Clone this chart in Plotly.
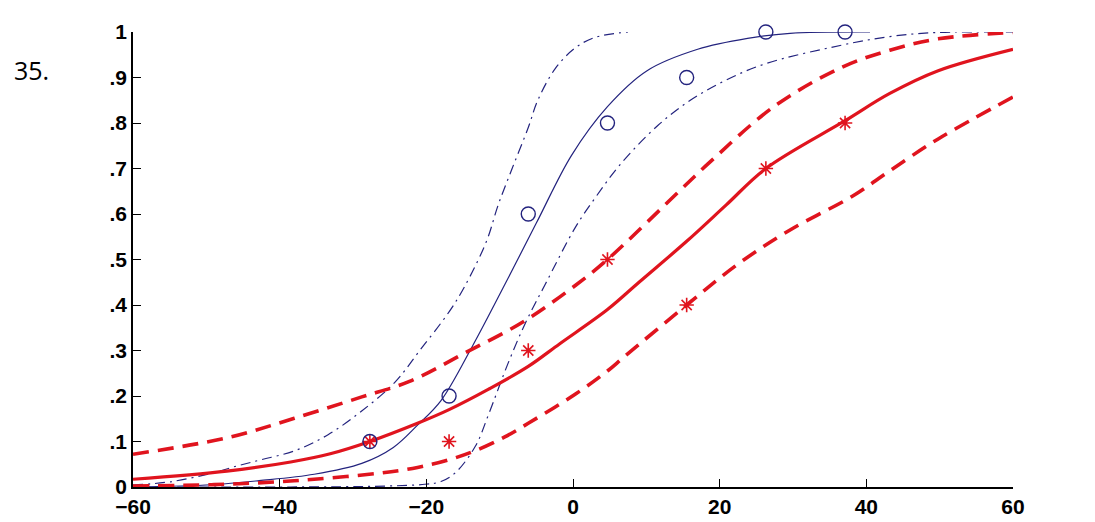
import plotly.graph_objects as go

x_obs = [-27.7, -16.9, -6.1, 4.7, 15.5, 26.3, 37.1]
blue_obs = [0.10, 0.20, 0.60, 0.80, 0.90, 1.00, 1.00]
red_obs = [0.10, 0.10, 0.30, 0.50, 0.40, 0.70, 0.80]

# Red fitted curve (solid) and its bounds (dashed)
red_fit_x = [-60, -47.2, -38.5, -33.1, -27.7, -21.2, -16.9, -11.5, -6.1, -1.8, 4.7, 9.0, 15.5,
             20.9, 26.3, 37.1, 43.2, 49.8, 60]
red_fit_y = [0.017, 0.035, 0.055, 0.073, 0.100, 0.140, 0.170, 0.215, 0.265, 0.315, 0.390, 0.450,
             0.540, 0.620, 0.700, 0.805, 0.865, 0.915, 0.962]
red_up_x = [-60, -47.2, -38.0, -28.8, -22.3, -14.8, -6.6, 0.4, 4.7, 14.8, 18.4, 27.4, 36.6, 43.2,
            49.8, 60]
red_up_y = [0.072, 0.108, 0.151, 0.198, 0.232, 0.294, 0.365, 0.444, 0.500, 0.655, 0.710, 0.836,
            0.922, 0.960, 0.985, 0.999]
red_lo_x = [-60, -49.3, -40.7, -35.3, -26.6, -21.2, -16.9, -13.3, -9.3, -6.1, 0.4, 4.7, 6.9, 15.5,
            22.5, 29.6, 38.2, 43.2, 49.8, 60]
red_lo_y = [0.002, 0.005, 0.011, 0.017, 0.030, 0.043, 0.060, 0.080, 0.110, 0.140, 0.205, 0.255,
            0.285, 0.400, 0.490, 0.565, 0.640, 0.695, 0.765, 0.857]

# Blue fitted curve (solid) and its bounds (dash-dot)
blue_fit_x = [-60, -49.3, -42.8, -35.3, -28.8, -24.5, -21.2, -18.0, -13.7, -9.3, -5.0, -0.2, 4.7,
              10.1, 17.0, 23.8, 29.6, 40.5]
blue_fit_y = [0.000, 0.005, 0.014, 0.028, 0.052, 0.087, 0.136, 0.190, 0.310, 0.445, 0.580, 0.729,
              0.836, 0.915, 0.962, 0.986, 0.997, 1.000]
blue_up_x = [-60, -54.7, -49.3, -46.1, -42.5, -37.9, -33.4, -28.9, -24.3, -20.9, -16.9, -14.8,
             -11.8, -10.2, -8.3, -6.1, -4.8, -2.4, 0.3, 3.0, 7.5]
blue_up_y = [0.004, 0.012, 0.030, 0.045, 0.060, 0.080, 0.115, 0.166, 0.230, 0.300, 0.385, 0.440,
             0.540, 0.620, 0.700, 0.790, 0.850, 0.920, 0.965, 0.988, 1.000]
blue_lo_x = [-60, -38.5, -25.6, -20.2, -18.0, -16.0, -13.3, -11.5, -8.9, -6.5, -3.8, 0.3, 3.0,
             6.5, 11.6, 16.0, 20.7, 26.2, 36.6, 43.2, 49.8, 60]
blue_lo_y = [0.000, 0.000, 0.002, 0.006, 0.012, 0.032, 0.090, 0.160, 0.270, 0.360, 0.445, 0.570,
             0.635, 0.710, 0.795, 0.850, 0.893, 0.930, 0.971, 0.990, 0.999, 1.000]

x_ticks = [-60, -40, -20, 0, 20, 40, 60]
y_ticks = [0, 0.1, 0.2, 0.3, 0.4, 0.5, 0.6, 0.7, 0.8, 0.9, 1]
y_ticktext = ["0", ".1", ".2", ".3", ".4", ".5", ".6", ".7", ".8", ".9", "1"]

RED = "#e0141e"
BLUE = "#23237e"

fig = go.Figure()


def line(x, y, color, width, dash):
    fig.add_trace(go.Scatter(x=x, y=y, mode="lines",
                             line=dict(color=color, width=width, dash=dash,
                                       shape="spline", smoothing=1.0),
                             cliponaxis=False, showlegend=False, hoverinfo="skip"))


line(blue_up_x, blue_up_y, BLUE, 1.2, "10px,5px,2px,5px")
line(blue_lo_x, blue_lo_y, BLUE, 1.2, "10px,5px,2px,5px")
line(blue_fit_x, blue_fit_y, BLUE, 1.2, "solid")
line(red_up_x, red_up_y, RED, 3.6, "16px,9px")
line(red_lo_x, red_lo_y, RED, 3.6, "16px,9px")
line(red_fit_x, red_fit_y, RED, 3.2, "solid")

fig.add_trace(go.Scatter(x=x_obs, y=red_obs, mode="markers",
                         marker=dict(symbol="asterisk-open", size=12, color=RED,
                                     line=dict(color=RED, width=1.6)),
                         cliponaxis=False, showlegend=False))
fig.add_trace(go.Scatter(x=x_obs, y=blue_obs, mode="markers",
                         marker=dict(symbol="circle-open", size=14, color=BLUE,
                                     line=dict(color=BLUE, width=1.4)),
                         cliponaxis=False, showlegend=False))

tickfont = dict(family="Liberation Sans", size=21, color="black", weight="bold")

ML, MR, MT, MB = 125, 90, 23, 31
W, H = 1095, 522
plot_w = W - ML - MR
plot_h = H - MT - MB

fig.update_layout(
    width=W, height=H,
    margin=dict(l=ML, r=MR, t=MT, b=MB),
    paper_bgcolor="white", plot_bgcolor="white",
    xaxis=dict(range=[-60, 60], tickvals=x_ticks, ticks="inside", ticklen=8, tickwidth=1.3,
               tickcolor="black", showline=True, linecolor="black", linewidth=1.5,
               showgrid=False, zeroline=False, tickfont=tickfont),
    yaxis=dict(range=[0, 1], tickvals=y_ticks, ticktext=y_ticktext, ticks="inside", ticklen=8,
               tickwidth=1.3, tickcolor="black", showline=True, linecolor="black", linewidth=1.5,
               showgrid=False, zeroline=False, tickfont=tickfont),
    annotations=[dict(text="35.", x=(4 - ML) / plot_w, y=(H - MB - 62) / plot_h,
                      xref="paper", yref="paper", showarrow=False,
                      xanchor="left", yanchor="middle",
                      font=dict(family="Open Sans", size=25, color="black"))],
)

fig.write_html("out.html")
